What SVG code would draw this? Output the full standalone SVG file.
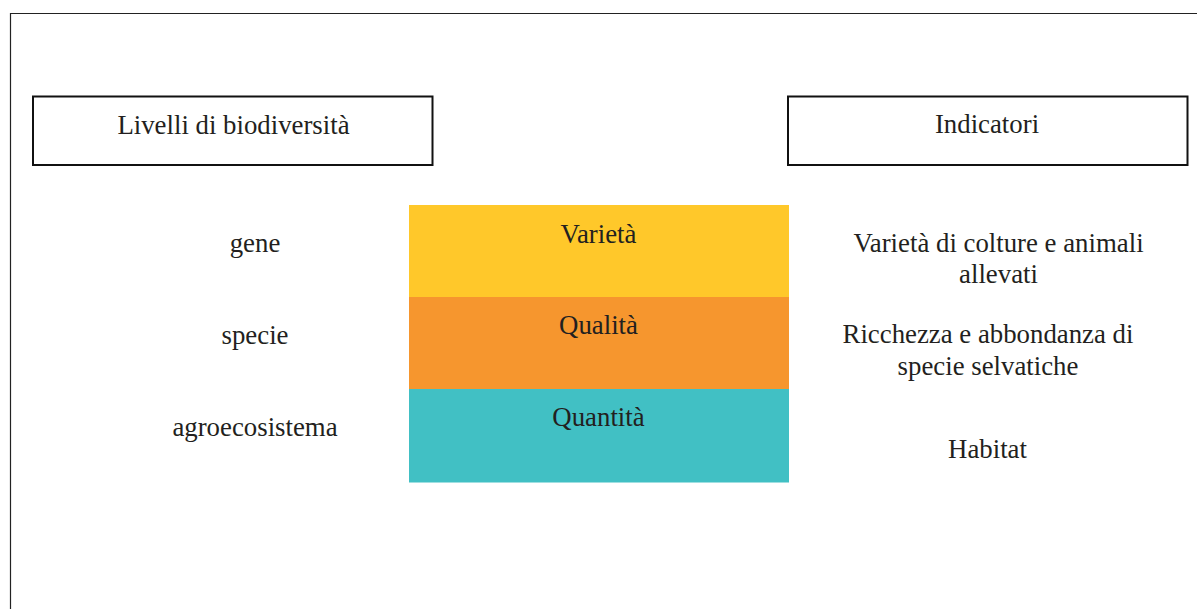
<svg xmlns="http://www.w3.org/2000/svg" width="1197" height="609" viewBox="0 0 1197 609">
  <style>
    .t { font-family: "Liberation Serif", "Times New Roman", serif; font-size: 26.8px; fill: #231f20; text-anchor: middle; }
    .box { fill: #ffffff; stroke: #111111; stroke-width: 2; }
  </style>
  <rect width="1197" height="609" fill="#ffffff"/>
  <!-- outer frame (open on right and bottom) -->
  <path d="M10.5 609 V13.5 H1197" fill="none" stroke="#222222" stroke-width="1.2"/>

  <g id="header-levels">
    <rect class="box" x="33" y="96.5" width="399.5" height="68.5"/>
    <text class="t" x="233.5" y="134">Livelli di biodiversità</text>
  </g>
  <g id="header-indicators">
    <rect class="box" x="788" y="96.5" width="399.5" height="68.5"/>
    <text class="t" x="987" y="133">Indicatori</text>
  </g>

  <g id="level-gene">
    <text class="t" x="255" y="251.5">gene</text>
  </g>
  <g id="level-species">
    <text class="t" x="255" y="344">specie</text>
  </g>
  <g id="level-agroecosystem">
    <text class="t" x="255" y="436">agroecosistema</text>
  </g>

  <g id="band-variety">
    <rect x="409" y="205" width="380" height="92" fill="#ffc82a"/>
    <text class="t" x="598.5" y="242.5">Varietà</text>
  </g>
  <g id="band-quality">
    <rect x="409" y="297" width="380" height="92" fill="#f6962e"/>
    <text class="t" x="598.5" y="333.5">Qualità</text>
  </g>
  <g id="band-quantity">
    <rect x="409" y="389" width="380" height="93.5" fill="#41c0c4"/>
    <text class="t" x="598.5" y="426">Quantità</text>
  </g>

  <g id="indicator-crops">
    <text class="t" x="998.5" y="252">Varietà di colture e animali</text>
    <text class="t" x="998.5" y="283">allevati</text>
  </g>
  <g id="indicator-species">
    <text class="t" x="988" y="343">Ricchezza e abbondanza di</text>
    <text class="t" x="988" y="375">specie selvatiche</text>
  </g>
  <g id="indicator-habitat">
    <text class="t" x="987.5" y="458">Habitat</text>
  </g>

  <g id="connectors"/>
</svg>
